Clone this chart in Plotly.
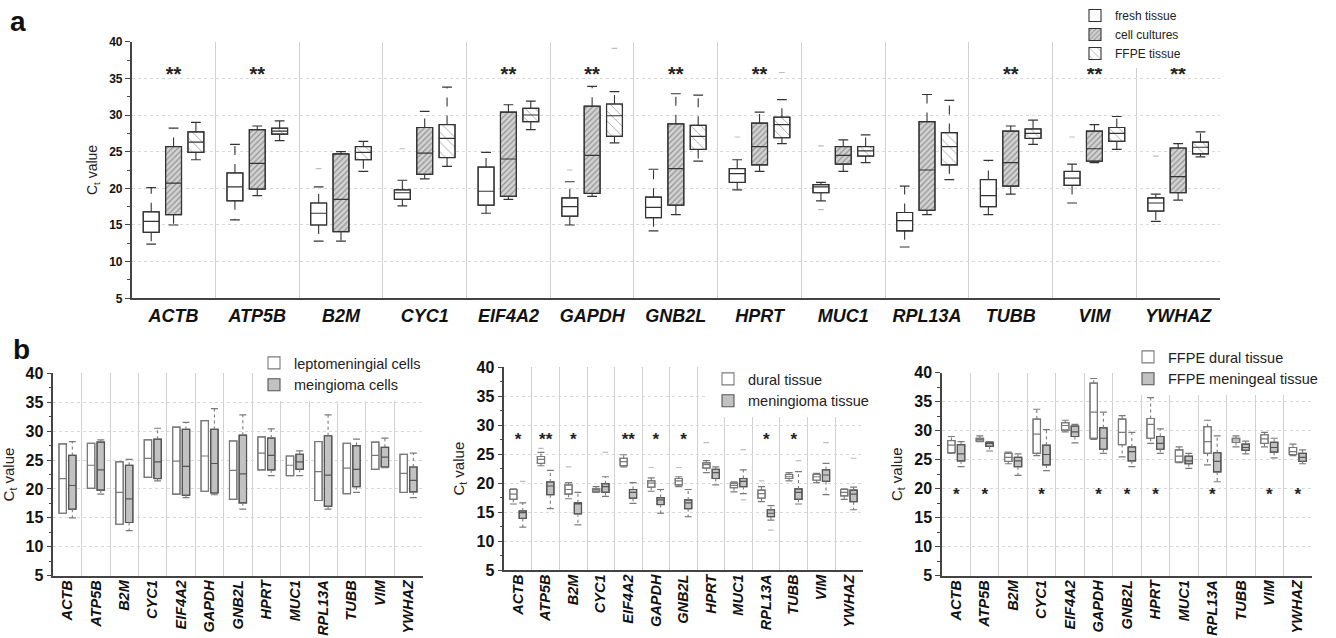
import plotly.graph_objects as go

# ---------------- data ----------------
genes = ["ACTB", "ATP5B", "B2M", "CYC1", "EIF4A2", "GAPDH", "GNB2L",
         "HPRT", "MUC1", "RPL13A", "TUBB", "VIM", "YWHAZ"]

# panel a : fresh tissue
a_fresh_lo = [12.4, 15.7, 12.8, 17.6, 16.6, 15.0, 14.2, 19.8, 18.3, 12.0, 16.4, 18.0, 15.5]
a_fresh_q1 = [14.0, 18.3, 15.0, 18.5, 17.7, 16.2, 16.0, 20.8, 19.4, 14.2, 17.5, 20.4, 16.9]
a_fresh_md = [15.5, 20.2, 16.6, 19.4, 19.6, 17.5, 17.4, 22.0, 20.2, 15.6, 19.0, 21.4, 18.0]
a_fresh_q3 = [16.8, 22.1, 18.0, 19.8, 22.9, 18.7, 18.8, 22.7, 20.5, 16.7, 21.2, 22.3, 18.7]
a_fresh_hi = [20.1, 26.0, 20.2, 21.1, 24.9, 20.9, 22.6, 23.9, 20.8, 20.3, 23.8, 23.3, 19.2]
a_fresh_out = [("B2M", 22.7), ("CYC1", 25.4), ("GAPDH", 22.5), ("HPRT", 27.0),
               ("MUC1", 25.8), ("MUC1", 17.1), ("VIM", 27.0), ("YWHAZ", 24.4)]
# panel a : cell cultures
a_cell_lo = [15.0, 19.0, 12.8, 21.3, 18.5, 18.9, 16.4, 22.3, 22.3, 16.4, 19.2, 23.5, 18.4]
a_cell_q1 = [16.4, 19.9, 14.1, 21.9, 18.9, 19.3, 17.7, 23.2, 23.3, 17.0, 20.3, 23.7, 19.4]
a_cell_md = [20.7, 23.4, 18.5, 24.8, 24.0, 24.5, 22.7, 25.7, 24.5, 22.5, 23.5, 25.4, 21.6]
a_cell_q3 = [25.7, 28.0, 24.7, 28.3, 30.4, 31.2, 28.8, 28.9, 25.7, 29.1, 27.8, 27.8, 25.5]
a_cell_hi = [28.2, 28.5, 25.0, 30.5, 31.4, 33.9, 32.9, 30.4, 26.6, 32.8, 28.5, 28.7, 26.1]
a_cell_out = []
# panel a : FFPE tissue
a_ffpe_lo = [23.9, 26.5, 22.3, 23.0, 28.0, 26.2, 23.7, 26.1, 23.5, 21.2, 26.0, 25.3, 24.3]
a_ffpe_q1 = [24.9, 27.4, 23.9, 24.2, 29.1, 27.1, 25.3, 26.9, 24.4, 23.2, 26.8, 26.4, 24.7]
a_ffpe_md = [26.3, 27.8, 24.9, 26.8, 30.0, 29.9, 27.1, 28.7, 25.1, 25.7, 27.5, 27.5, 25.6]
a_ffpe_q3 = [27.7, 28.2, 25.7, 28.7, 30.9, 31.5, 28.6, 29.7, 25.7, 27.6, 28.1, 28.3, 26.3]
a_ffpe_hi = [29.0, 29.2, 26.4, 33.8, 31.9, 33.2, 32.7, 32.1, 27.3, 32.0, 29.3, 29.8, 27.7]
a_ffpe_out = [("GAPDH", 39.1), ("HPRT", 35.8)]
a_sig = ["**", "**", "", "", "**", "**", "**", "**", "", "", "**", "**", "**"]
a_sig_y = 35.3

# panel b1 : leptomeningial cells (no whiskers)
b1_lep_q1 = [15.8, 20.1, 13.9, 22.0, 19.1, 19.6, 18.2, 23.3, 22.3, 18.0, 19.2, 23.4, 19.4]
b1_lep_md = [21.8, 24.1, 19.4, 25.3, 24.8, 25.7, 23.2, 26.2, 24.1, 23.0, 23.6, 25.8, 22.7]
b1_lep_q3 = [27.8, 27.9, 24.7, 28.5, 30.7, 31.8, 28.3, 29.0, 25.7, 28.2, 27.9, 28.1, 26.0]
# panel b1 : meningioma cells
b1_men_lo = [15.0, 19.1, 12.8, 21.4, 18.5, 19.0, 16.5, 22.3, 22.3, 16.5, 19.4, 23.7, 18.5]
b1_men_q1 = [16.5, 19.8, 14.2, 21.8, 18.9, 19.3, 17.6, 23.3, 23.4, 17.0, 20.4, 23.8, 19.5]
b1_men_md = [20.6, 23.3, 18.3, 24.7, 23.9, 24.4, 22.6, 25.8, 24.7, 22.4, 23.4, 25.5, 21.5]
b1_men_q3 = [25.8, 28.1, 24.1, 28.6, 30.3, 30.3, 29.3, 28.8, 26.0, 29.2, 27.5, 27.2, 23.8]
b1_men_hi = [28.2, 28.5, 25.1, 30.5, 31.5, 33.9, 32.8, 30.4, 26.6, 32.8, 28.6, 28.8, 26.2]

# panel b2 : dural tissue
b2_dur_lo = [16.4, 23.0, 17.3, 18.4, 22.8, 18.6, 19.4, 21.8, 18.5, 16.8, 20.4, 20.1, 17.2]
b2_dur_q1 = [17.2, 23.4, 18.1, 18.5, 23.0, 19.3, 19.7, 22.6, 19.2, 17.4, 20.8, 20.5, 17.8]
b2_dur_md = [18.1, 24.1, 18.9, 18.8, 23.7, 20.0, 20.4, 23.2, 19.6, 18.2, 21.1, 21.1, 18.4]
b2_dur_q3 = [18.9, 24.6, 19.7, 19.0, 24.3, 20.4, 20.8, 23.5, 20.0, 18.8, 21.5, 21.5, 18.9]
b2_dur_hi = [19.0, 25.3, 20.1, 19.4, 24.9, 20.9, 21.1, 23.9, 20.2, 19.4, 21.8, 21.7, 19.0]
b2_dur_out = [("ATP5B", 26.0), ("B2M", 22.8), ("GAPDH", 22.7), ("GNB2L", 22.7),
              ("HPRT", 27.0), ("RPL13A", 20.4)]
# panel b2 : meningioma tissue
b2_men_lo = [12.4, 15.6, 12.8, 17.7, 16.5, 14.8, 14.2, 19.7, 18.2, 13.6, 16.4, 18.0, 15.4]
b2_men_q1 = [13.9, 18.0, 14.7, 18.4, 17.4, 16.3, 15.6, 20.8, 19.4, 14.2, 17.2, 20.3, 16.8]
b2_men_md = [14.9, 19.5, 16.4, 19.4, 18.4, 17.1, 16.6, 21.8, 20.3, 14.8, 18.4, 21.4, 18.1]
b2_men_q3 = [15.2, 20.2, 16.6, 19.9, 18.9, 17.5, 17.1, 22.4, 20.8, 15.4, 19.0, 22.3, 18.8]
b2_men_hi = [16.6, 22.2, 18.4, 21.1, 20.1, 18.9, 18.9, 22.8, 22.3, 16.1, 22.0, 23.4, 19.3]
b2_men_out = [("ACTB", 20.3), ("CYC1", 25.3), ("MUC1", 25.8), ("MUC1", 17.1),
              ("RPL13A", 11.9), ("TUBB", 23.9), ("VIM", 27.0), ("YWHAZ", 24.3)]
b2_sig = ["*", "**", "*", "", "**", "*", "*", "", "", "*", "*", "", ""]
b2_sig_y = 27.4

# panel b3 : FFPE dural tissue
b3_dur_lo = [26.1, 28.1, 24.3, 25.7, 29.8, 28.5, 25.5, 27.8, 24.5, 24.1, 27.2, 27.2, 25.7]
b3_dur_q1 = [26.2, 28.2, 24.7, 26.1, 30.1, 28.7, 27.6, 28.7, 24.6, 26.1, 28.0, 27.8, 25.9]
b3_dur_md = [27.5, 28.5, 25.4, 29.4, 30.9, 33.2, 29.7, 31.1, 25.6, 28.1, 28.4, 28.6, 26.4]
b3_dur_q3 = [28.3, 28.7, 26.1, 32.0, 31.4, 38.2, 32.0, 32.1, 26.7, 30.7, 28.7, 29.3, 27.1]
b3_dur_hi = [29.0, 29.1, 26.3, 33.7, 31.8, 39.0, 32.6, 35.7, 27.2, 31.8, 29.1, 29.7, 27.7]
# panel b3 : FFPE meningeal tissue
b3_men_lo = [23.8, 26.5, 22.3, 23.1, 27.9, 26.1, 23.8, 26.1, 23.5, 21.2, 26.0, 25.3, 24.3]
b3_men_q1 = [24.8, 27.3, 23.8, 24.1, 29.0, 26.8, 24.8, 26.8, 24.3, 22.9, 26.6, 26.3, 24.7]
b3_men_md = [26.0, 27.8, 24.8, 25.9, 29.8, 28.7, 26.4, 27.8, 24.8, 24.7, 27.1, 27.1, 25.4]
b3_men_q3 = [27.6, 28.0, 25.4, 27.5, 30.8, 30.5, 27.2, 29.0, 25.6, 26.2, 27.7, 28.0, 26.1]
b3_men_hi = [28.1, 28.1, 26.0, 30.2, 31.1, 33.2, 29.7, 30.3, 26.1, 29.1, 28.2, 28.7, 26.7]
b3_sig = ["*", "*", "", "*", "", "*", "*", "*", "", "*", "", "*", "*"]
b3_sig_y = 18.8

y_ticks = [5, 10, 15, 20, 25, 30, 35, 40]

# ---------------- layout helpers ----------------
W, H = 1336, 638
FONT = "Liberation Sans, Arial, sans-serif"


def xdom(a, b):
    return [a / W, b / W]


def ydom(top, bottom):
    return [1 - bottom / H, 1 - top / H]


fig = go.Figure()
idx = {g: i for i, g in enumerate(genes)}


def add_series(ax, pos_off, width, lo, q1, md, q3, hi, name, legend,
               marker, line_color, whisk_dash, whisk_color, cap_size, outliers=()):
    xa, ya = ("x" + ax[0], "y" + ax[1]) if ax[0] else ("x", "y")
    pos = [i + pos_off for i in range(len(genes))]
    fig.add_trace(go.Bar(
        x=pos, y=[b - a for a, b in zip(q1, q3)], base=q1, width=width,
        xaxis=xa, yaxis=ya, name=name, legend=legend, showlegend=True,
        marker=dict(line=dict(color=line_color, width=1.1), **marker),
        hoverinfo="skip"))
    fig.add_trace(go.Box(
        x=pos, q1=q1, median=md, q3=q3, lowerfence=q1, upperfence=q3,
        width=width, xaxis=xa, yaxis=ya, showlegend=False, boxpoints=False,
        fillcolor="rgba(0,0,0,0)", whiskerwidth=0,
        line=dict(color=line_color, width=1.2), hoverinfo="skip"))
    wx, wy, cx, cy = [], [], [], []
    for p, l, a, b, h in zip(pos, lo, q1, q3, hi):
        if h > b:
            wx += [p, p, None]
            wy += [b, h, None]
            cx.append(p)
            cy.append(h)
        if l < a:
            wx += [p, p, None]
            wy += [a, l, None]
            cx.append(p)
            cy.append(l)
    if wx:
        fig.add_trace(go.Scatter(
            x=wx, y=wy, mode="lines", xaxis=xa, yaxis=ya, showlegend=False,
            line=dict(color=whisk_color, width=1.1, dash=whisk_dash), hoverinfo="skip"))
        fig.add_trace(go.Scatter(
            x=cx, y=cy, mode="markers", xaxis=xa, yaxis=ya, showlegend=False,
            marker=dict(symbol="line-ew", size=cap_size,
                        line=dict(color=whisk_color, width=1.2)), hoverinfo="skip"))
    if outliers:
        fig.add_trace(go.Scatter(
            x=[idx[g] + pos_off for g, v in outliers], y=[v for g, v in outliers],
            mode="markers", xaxis=xa, yaxis=ya, showlegend=False,
            marker=dict(symbol="line-ew", size=4, line=dict(color="#bdbdbd", width=1.2)),
            hoverinfo="skip"))


def add_sig(ax, sig, yval, size):
    xa, ya = ("x" + ax[0], "y" + ax[1]) if ax[0] else ("x", "y")
    xs = [i for i, s in enumerate(sig) if s]
    fig.add_trace(go.Scatter(
        x=xs, y=[yval] * len(xs), text=[sig[i] for i in xs], mode="text",
        xaxis=xa, yaxis=ya, showlegend=False, hoverinfo="skip",
        textfont=dict(family=FONT, size=size, color="#222", weight="bold")))


DARK = "#333333"
white = dict(color="white")
cell_pat = dict(color="#cfcfcf", pattern=dict(shape="/", bgcolor="#d3d3d3", fgcolor="#555555",
                                               size=4, solidity=0.32))
ffpe_pat = dict(color="white", pattern=dict(shape="\\", bgcolor="white", fgcolor="#555555",
                                             size=7, solidity=0.14))
gray = dict(color="#c2c2c2")

# panel a
oa, wa = 0.267, 0.19
add_series(("", ""), -oa, wa, a_fresh_lo, a_fresh_q1, a_fresh_md, a_fresh_q3, a_fresh_hi,
           "fresh tissue", "legend", white, DARK, "dash", DARK, 7, a_fresh_out)
add_series(("", ""), 0, wa, a_cell_lo, a_cell_q1, a_cell_md, a_cell_q3, a_cell_hi,
           "cell cultures", "legend", cell_pat, DARK, "dash", DARK, 7, a_cell_out)
add_series(("", ""), oa, wa, a_ffpe_lo, a_ffpe_q1, a_ffpe_md, a_ffpe_q3, a_ffpe_hi,
           "FFPE tissue", "legend", ffpe_pat, DARK, "dash", DARK, 7, a_ffpe_out)
add_sig(("", ""), a_sig, a_sig_y, 20)

ob, wb = 0.17, 0.26
LG = "#7a7a7a"
MG = "#555555"
add_series(("2", "2"), -ob, wb, b1_lep_q1, b1_lep_q1, b1_lep_md, b1_lep_q3, b1_lep_q3,
           "leptomeningial cells", "legend2", white, LG, "dot", LG, 5)
add_series(("2", "2"), ob, wb, b1_men_lo, b1_men_q1, b1_men_md, b1_men_q3, b1_men_hi,
           "meingioma cells", "legend2", gray, MG, "dot", LG, 5)

add_series(("3", "3"), -ob, wb, b2_dur_lo, b2_dur_q1, b2_dur_md, b2_dur_q3, b2_dur_hi,
           "dural tissue", "legend3", white, LG, "dot", LG, 5, b2_dur_out)
add_series(("3", "3"), ob, wb, b2_men_lo, b2_men_q1, b2_men_md, b2_men_q3, b2_men_hi,
           "meningioma tissue", "legend3", gray, MG, "dot", LG, 5, b2_men_out)
add_sig(("3", "3"), b2_sig, b2_sig_y, 17)

add_series(("4", "4"), -ob, wb, b3_dur_lo, b3_dur_q1, b3_dur_md, b3_dur_q3, b3_dur_hi,
           "FFPE dural tissue", "legend4", white, LG, "dot", LG, 5)
add_series(("4", "4"), ob, wb, b3_men_lo, b3_men_q1, b3_men_md, b3_men_q3, b3_men_hi,
           "FFPE meningeal tissue", "legend4", gray, MG, "dot", LG, 5)
add_sig(("4", "4"), b3_sig, b3_sig_y, 17)


def xaxis_cfg(domain, anchor, size, angle, standoff=0):
    return dict(
        domain=domain, anchor=anchor, range=[-0.5, len(genes) - 0.5],
        tickmode="array", tickvals=list(range(len(genes))), ticktext=genes,
        tickangle=angle, ticks="", showgrid=False, zeroline=False,
        showline=True, linecolor="#444", linewidth=1.5, automargin=False,
        ticklabelstandoff=standoff,
        tickfont=dict(family=FONT, size=size, color="#111", weight="bold", style="italic"),
        minor=dict(tickvals=[i + 0.5 for i in range(len(genes) - 1)], showgrid=True,
                   gridcolor="#d0d0d0", gridwidth=1, ticks=""),
        fixedrange=True)


def yaxis_cfg(domain, anchor, size, title_size):
    return dict(
        domain=domain, anchor=anchor, range=[5, 40], tickmode="array", tickvals=y_ticks,
        ticks="outside", ticklen=5, tickwidth=1, tickcolor="#444",
        showline=True, linecolor="#444", linewidth=1.5, zeroline=False,
        showgrid=True, gridcolor="#d9d9d9", griddash="dot", gridwidth=1,
        minor=dict(tickvals=[v + 2.5 for v in y_ticks[:-1]], ticks="outside", ticklen=3,
                   tickcolor="#444", showgrid=False),
        tickfont=dict(family=FONT, size=size, color="#111", weight="bold"),
        title=dict(text="C<sub>t</sub> value",
                   font=dict(family=FONT, size=title_size, color="#222"), standoff=8),
        automargin=False, fixedrange=True)


leg_common = dict(bgcolor="white", borderwidth=0, xanchor="left", yanchor="top",
                  traceorder="normal", itemclick=False, itemdoubleclick=False)

fig.update_layout(
    width=W, height=H, margin=dict(l=0, r=0, t=0, b=0),
    paper_bgcolor="white", plot_bgcolor="white",
    barmode="overlay", boxmode="overlay", showlegend=True,
    xaxis=xaxis_cfg(xdom(131.7, 1220), "y", 18, 0),
    yaxis=yaxis_cfg(ydom(41.7, 298.3), "x", 12, 14),
    xaxis2=xaxis_cfg(xdom(53.3, 422.7), "y2", 14.5, -90, -3),
    yaxis2=yaxis_cfg(ydom(373.3, 575.7), "x2", 16, 15),
    xaxis3=xaxis_cfg(xdom(504.3, 862.7), "y3", 14.5, -90, -3),
    yaxis3=yaxis_cfg(ydom(367.3, 570), "x3", 16, 15),
    xaxis4=xaxis_cfg(xdom(942, 1312), "y4", 14.5, -90, -3),
    yaxis4=yaxis_cfg(ydom(372.7, 575.7), "x4", 16, 15),
    legend=dict(x=1075 / W, y=1 - 1 / H, font=dict(family=FONT, size=12, color="#222"),
                **leg_common),
    legend2=dict(x=254 / W, y=1 - 347 / H, font=dict(family=FONT, size=14.5, color="#222"),
                 **leg_common),
    legend3=dict(x=708 / W, y=1 - 363 / H, font=dict(family=FONT, size=14.5, color="#222"),
                 **leg_common),
    legend4=dict(x=1128 / W, y=1 - 341 / H, font=dict(family=FONT, size=14.5, color="#222"),
                 **leg_common),
    annotations=[
        dict(text="a", x=8 / W, y=1 - 4 / H, xref="paper", yref="paper",
             xanchor="left", yanchor="top", showarrow=False,
             font=dict(family=FONT, size=28, color="#111", weight="bold")),
        dict(text="b", x=11 / W, y=1 - 332 / H, xref="paper", yref="paper",
             xanchor="left", yanchor="top", showarrow=False,
             font=dict(family=FONT, size=28, color="#111", weight="bold")),
    ],
)

fig.write_html("out.html", config={"displayModeBar": False},
               post_script="document.body.style.margin='0';document.body.style.overflow='hidden';")
